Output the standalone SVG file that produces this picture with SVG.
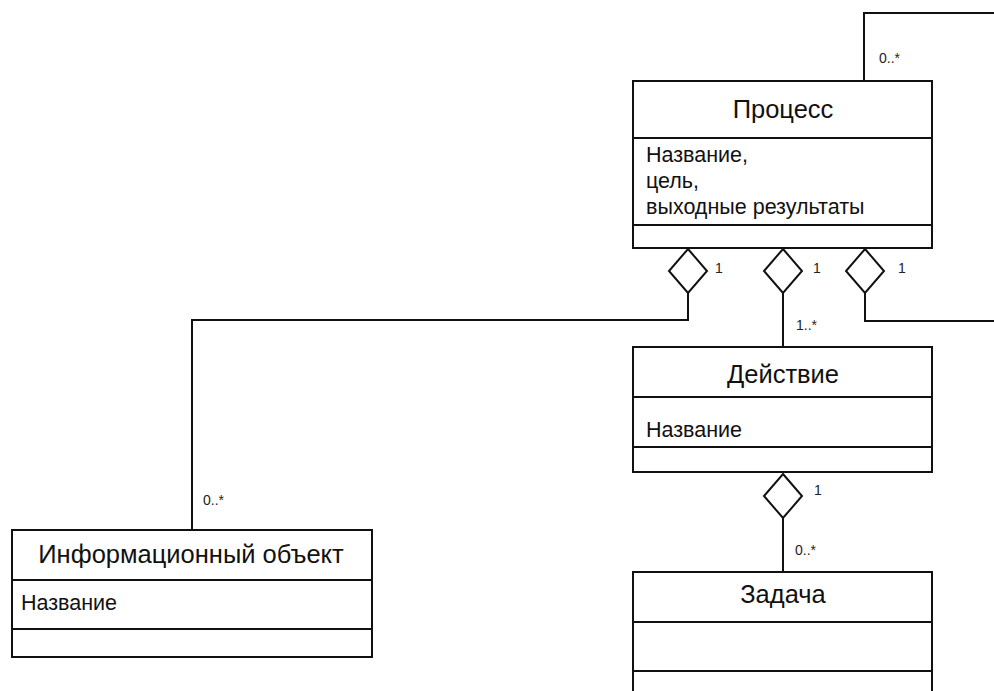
<svg xmlns="http://www.w3.org/2000/svg" width="994" height="691" viewBox="0 0 994 691">
  <style>
    .box { fill: #fff; stroke: #111; stroke-width: 2; }
    .sep { stroke: #111; stroke-width: 2; }
    .wire { fill: none; stroke: #111; stroke-width: 2; }
    .agg { fill: #fff; stroke: #111; stroke-width: 2; stroke-linejoin: miter; }
    .title { font-family: "Liberation Sans", Arial, sans-serif; font-size: 25.5px; fill: #111; text-anchor: middle; }
    .attr { font-family: "Liberation Sans", Arial, sans-serif; font-size: 21.5px; fill: #111; }
    .mult { font-family: "Liberation Sans", Arial, sans-serif; font-size: 14px; fill: #222; }
  </style>
  <rect width="994" height="691" fill="#fff"/>

  <!-- associations -->
  <g id="connectors">
    <!-- self-association of Процесс -->
    <polyline class="wire" points="864,81 864,13 994,13"/>
    <polyline class="wire" points="865,293 865,321 994,321"/>
    <!-- Процесс to Информационный объект -->
    <polyline class="wire" points="688,293 688,320 192,320 192,530"/>
    <!-- Процесс to Действие -->
    <line class="wire" x1="783" y1="293" x2="783" y2="347"/>
    <!-- Действие to Задача -->
    <line class="wire" x1="783" y1="518" x2="783" y2="572"/>
    <!-- aggregation diamonds -->
    <polygon class="agg" points="688,249 707,271 688,293 669,271"/>
    <polygon class="agg" points="783,249 802,271 783,293 764,271"/>
    <polygon class="agg" points="865,249 884,271 865,293 846,271"/>
    <polygon class="agg" points="783,474 802,496 783,518 764,496"/>
    <!-- multiplicities -->
    <text class="mult" x="879" y="63">0..*</text>
    <text class="mult" x="715" y="273">1</text>
    <text class="mult" x="813" y="273">1</text>
    <text class="mult" x="898" y="273">1</text>
    <text class="mult" x="796" y="330">1..*</text>
    <text class="mult" x="814" y="495">1</text>
    <text class="mult" x="795" y="555">0..*</text>
    <text class="mult" x="203" y="505">0..*</text>
  </g>

  <g id="process">
    <rect class="box" x="633" y="81" width="299" height="167"/>
    <line class="sep" x1="633" y1="138" x2="932" y2="138"/>
    <line class="sep" x1="633" y1="225" x2="932" y2="225"/>
    <text class="title" x="783" y="118">Процесс</text>
    <text class="attr" x="646" y="162">Название,</text>
    <text class="attr" x="646" y="188">цель,</text>
    <text class="attr" x="646" y="214">выходные результаты</text>
  </g>

  <g id="action">
    <rect class="box" x="633" y="347" width="299" height="125"/>
    <line class="sep" x1="633" y1="397" x2="932" y2="397"/>
    <line class="sep" x1="633" y1="447" x2="932" y2="447"/>
    <text class="title" x="783" y="383">Действие</text>
    <text class="attr" x="646" y="437">Название</text>
  </g>

  <g id="task">
    <rect class="box" x="633" y="572" width="299" height="130"/>
    <line class="sep" x1="633" y1="622" x2="932" y2="622"/>
    <line class="sep" x1="633" y1="671" x2="932" y2="671"/>
    <text class="title" x="783" y="603">Задача</text>
  </g>

  <g id="info-object">
    <rect class="box" x="12" y="530" width="360" height="127"/>
    <line class="sep" x1="12" y1="580" x2="372" y2="580"/>
    <line class="sep" x1="12" y1="629" x2="372" y2="629"/>
    <text class="title" x="191" y="563">Информационный объект</text>
    <text class="attr" x="21" y="610">Название</text>
  </g>
</svg>
